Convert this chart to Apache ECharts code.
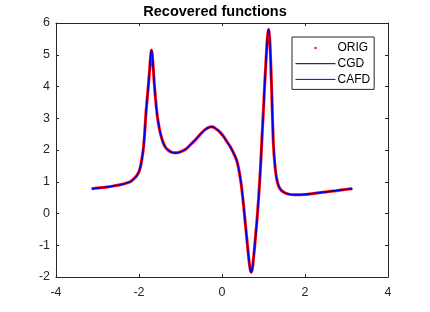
<!DOCTYPE html>
<html>
<head>
<meta charset="utf-8">
<script src="https://cdn.jsdelivr.net/npm/echarts@6/dist/echarts.min.js"></script>
<style>
html,body{margin:0;padding:0;background:#fff;}
#c{width:430px;height:312px;}
</style>
</head>
<body>
<div id="c"></div>
<script>
// x samples
const xVals = [
 -3.14,-3.0,-2.8,-2.6,-2.4,-2.3,-2.2,-2.1,-2.05,-2.0,-1.96,-1.92,-1.89,-1.86,-1.83,-1.80,-1.77,-1.74,-1.72,-1.70,
 -1.68,-1.66,-1.64,-1.62,-1.59,-1.56,-1.52,-1.48,-1.42,-1.36,-1.30,-1.22,-1.14,-1.05,-0.95,-0.86,-0.75,-0.62,-0.5,-0.4,
 -0.3,-0.24,-0.16,-0.06,0.04,0.12,0.2,0.28,0.34,0.38,0.42,0.46,0.49,0.52,0.55,0.58,0.61,0.64,0.67,0.70,
 0.73,0.76,0.79,0.82,0.85,0.88,0.91,0.94,0.97,1.0,1.03,1.06,1.09,1.12,1.14,1.16,1.18,1.20,1.22,1.24,
 1.27,1.31,1.36,1.42,1.5,1.6,1.75,2.0,2.25,2.5,2.75,3.0,3.14
];
// ORIG samples
const origY = [
 0.78,0.80,0.83,0.87,0.92,0.96,1.01,1.12,1.20,1.32,1.50,1.80,2.10,2.60,3.20,3.65,4.10,4.60,4.95,5.15,
 5.00,4.65,4.25,3.90,3.45,3.08,2.75,2.50,2.24,2.08,2.00,1.93,1.91,1.92,1.97,2.04,2.18,2.35,2.53,2.65,
 2.72,2.73,2.68,2.58,2.42,2.26,2.10,1.90,1.72,1.55,1.28,0.95,0.62,0.25,-0.15,-0.55,-0.95,-1.35,-1.68,-1.85,
 -1.75,-1.40,-1.00,-0.55,-0.10,0.45,1.05,1.75,2.55,3.30,4.10,4.80,5.45,5.80,5.65,5.25,4.55,3.75,2.85,2.15,
 1.60,1.15,0.88,0.74,0.66,0.61,0.59,0.60,0.64,0.68,0.72,0.76,0.78
];
// recovered curves (indistinguishable from ORIG in the picture)
const cgdY = origY.slice();
const cafdY = origY.slice();
const seriesNames = ['ORIG','CGD','CAFD'];
const xTicks = [-4,-2,0,2,4];
const yTicks = [-2,-1,0,1,2,3,4,5,6];

const pairs = ys => xVals.map((x,i)=>[x, ys[i]]);
const axisColor = '#262626';
const font = 'Liberation Sans, Arial, Helvetica, sans-serif';

const chart = echarts.init(document.getElementById('c'), null, {renderer:'canvas'});
const xBase = {
  type:'value', min:xTicks[0], max:xTicks[xTicks.length-1], interval:2,
  axisLine:{show:true, onZero:false, lineStyle:{color:axisColor, width:1}},
  axisTick:{show:true, inside:true, length:3, lineStyle:{color:axisColor}},
  splitLine:{show:false}
};
const yBase = {
  type:'value', min:yTicks[0], max:yTicks[yTicks.length-1], interval:1,
  axisLine:{show:true, onZero:false, lineStyle:{color:axisColor, width:1}},
  axisTick:{show:true, inside:true, length:3, lineStyle:{color:axisColor}},
  splitLine:{show:false}
};
chart.setOption({
  animation:false,
  backgroundColor:'#fff',
  title:{text:'Recovered functions', left:'center', top:-1,
    textStyle:{fontFamily:font, fontSize:14.5, fontWeight:'bold', color:'#000'}},
  grid:{left:56, top:23, width:332, height:254, containLabel:false},
  xAxis:[
    Object.assign({}, xBase, {position:'bottom',
      axisLabel:{show:true, margin:9, color:axisColor, fontFamily:font, fontSize:12.5}}),
    Object.assign({}, xBase, {position:'top', axisLabel:{show:false}})
  ],
  yAxis:[
    Object.assign({}, yBase, {position:'left',
      axisLabel:{show:true, margin:6, color:axisColor, fontFamily:font, fontSize:12.5}}),
    Object.assign({}, yBase, {position:'right', axisLabel:{show:false}})
  ],
  legend:{
    orient:'vertical', left:292, top:37,
    itemWidth:40, itemHeight:5, itemGap:3.7,
    padding:[5,4,4,3],
    borderColor:axisColor, borderWidth:1, backgroundColor:'#fff',
    textStyle:{fontFamily:font, fontSize:12, color:'#000', padding:[0,0,0,-3]},
    data:[
      {name:'ORIG', icon:'path://M0,0L0,0M19,1.5h2v2h-2zM40,5L40,5', itemStyle:{color:'#ff0000'}},
      {name:'CGD', lineStyle:{width:1, color:'#000'}, itemStyle:{opacity:0}},
      {name:'CAFD', lineStyle:{width:1, color:'#0000ff'}, itemStyle:{opacity:0}}
    ]
  },
  series:[
    {name:seriesNames[0], type:'line', data:pairs(origY), smooth:0.35, symbol:'rect', showSymbol:false,
     itemStyle:{color:'#ff0000'}, lineStyle:{color:'#ff0000', width:3}, z:1},
    {name:seriesNames[1], type:'line', data:pairs(cgdY), smooth:0.35, symbol:'none',
     itemStyle:{color:'#000'}, lineStyle:{color:'#000', width:1}, z:2},
    {name:seriesNames[2], type:'line', data:pairs(cafdY), smooth:0.35, symbol:'none',
     itemStyle:{color:'#0000ff'}, lineStyle:{color:'#0000ff', width:1.2}, z:3}
  ]
});
</script>
</body>
</html>
